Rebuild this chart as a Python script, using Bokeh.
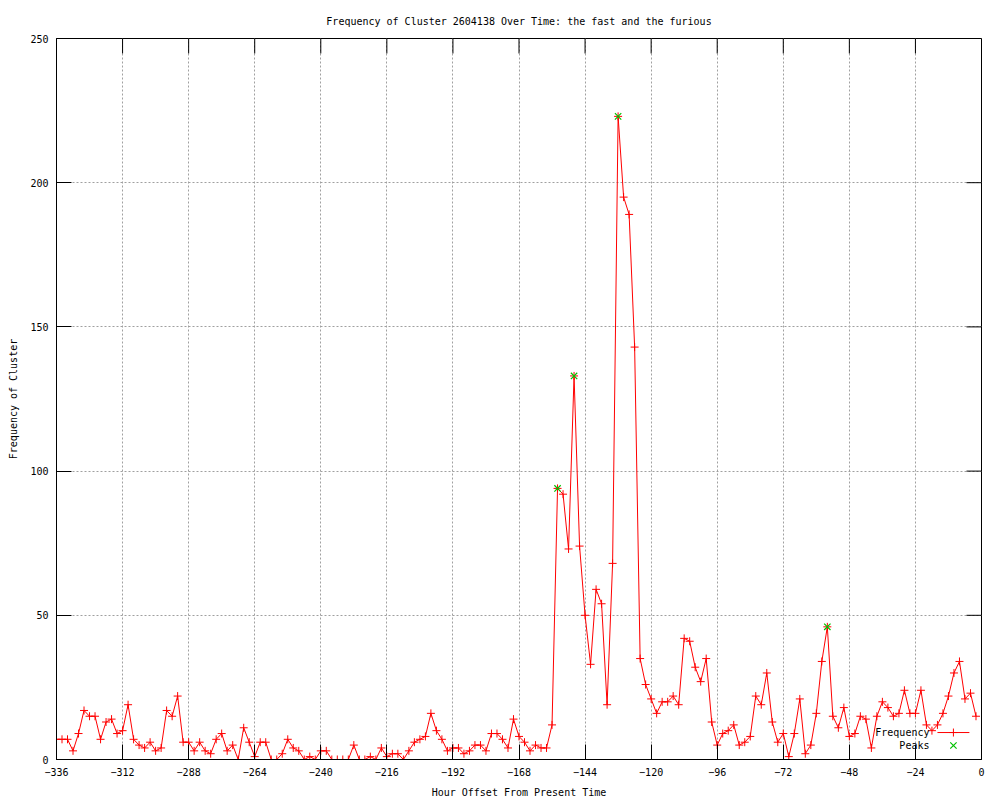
from bokeh.plotting import figure
from bokeh.models import FixedTicker, Range1d, Label
from bokeh.embed import file_html
from bokeh.resources import INLINE

# ---------------- data ----------------
chart_title = "Frequency of Cluster 2604138 Over Time: the fast and the furious"
x_label = "Hour Offset From Present Time"
y_label = "Frequency of Cluster"

hours = list(range(-336, 0, 2))
frequency = [
    7, 7, 7, 3, 9, 17, 15, 15, 7, 13, 14, 9,            # -336 .. -314
    10, 19, 7, 5, 4, 6, 3, 4, 17, 15, 22, 6,            # -312 .. -290
    6, 3, 6, 3, 2, 7, 9, 3, 5, 0, 11, 6,                # -288 .. -266
    1, 6, 6, 0, 0, 2, 7, 4, 3, 0, 1, 0,                 # -264 .. -242
    3, 3, 0, 0, 0, 0, 5, 0, 0, 1, 0, 4,                 # -240 .. -218
    1, 2, 2, 0, 3, 6, 7, 8, 16, 10, 7, 3,               # -216 .. -194
    4, 4, 2, 3, 5, 5, 3, 9, 9, 7, 4, 14,                # -192 .. -170
    8, 6, 3, 5, 4, 4, 12, 94, 92, 73, 133, 74,          # -168 .. -146
    50, 33, 59, 54, 19, 68, 223, 195, 189, 143, 35, 26, # -144 .. -122
    21, 16, 20, 20, 22, 19, 42, 41, 32, 27, 35, 13,     # -120 .. -98
    5, 9, 10, 12, 5, 6, 8, 22, 19, 30, 13, 6,           # -96 .. -74
    9, 1, 9, 21, 2, 5, 16, 34, 46, 15, 11, 18,          # -72 .. -50
    8, 9, 15, 14, 4, 15, 20, 18, 15, 16, 24, 16,        # -48 .. -26
    16, 24, 12, 10, 12, 16, 22, 30, 34, 21, 23, 15,     # -24 .. -2
]
peak_hours = [-154, -148, -132, -56]
peak_values = [94, 133, 223, 46]

x_ticks = [-336, -312, -288, -264, -240, -216, -192, -168, -144, -120, -96, -72, -48, -24, 0]
y_ticks = [0, 50, 100, 150, 200, 250]

# ---------------- style / layout ----------------
FONT = "DejaVu Sans Mono"
FS = "10px"
RED = "#ff0000"
GREEN = "#00c000"

X0, X1, Y0, Y1 = -336, 0, 0, 250
FIG_W, FIG_H = 992, 800
B_LEFT, B_RIGHT, B_TOP, B_BOTTOM = 56, 11, 38, 40
FRAME_W = FIG_W - B_LEFT - B_RIGHT
FRAME_H = FIG_H - B_TOP - B_BOTTOM
TICK_PX = 15

p = figure(width=FIG_W, height=FIG_H, output_backend="svg", toolbar_location=None,
           x_range=Range1d(X0, X1), y_range=Range1d(Y0, Y1),
           min_border_left=B_LEFT, min_border_right=B_RIGHT,
           min_border_top=B_TOP, min_border_bottom=B_BOTTOM)

p.title.text = chart_title
p.title.align = "center"
p.title.text_font = FONT
p.title.text_font_size = FS
p.title.text_font_style = "normal"
p.title.text_color = "black"
p.title.standoff = 24

p.outline_line_color = "black"
p.outline_line_alpha = 1
p.outline_line_width = 1
p.background_fill_color = "white"
p.border_fill_color = "white"

for ax, ticks in ((p.xaxis[0], x_ticks), (p.yaxis[0], y_ticks)):
    ax.ticker = FixedTicker(ticks=ticks)
    ax.major_tick_in = TICK_PX
    ax.major_tick_out = 0
    ax.minor_tick_line_color = None
    ax.axis_line_color = "black"
    ax.major_tick_line_color = "black"
    ax.major_label_text_font = FONT
    ax.major_label_text_font_size = FS
    ax.major_label_text_color = "black"
    ax.axis_label_text_font = FONT
    ax.axis_label_text_font_size = FS
    ax.axis_label_text_font_style = "normal"
    ax.axis_label_text_color = "black"

p.xaxis.axis_label = x_label
p.yaxis.axis_label = y_label
p.xaxis.major_label_standoff = 8
p.xaxis.axis_label_standoff = 8
p.yaxis.major_label_standoff = 8
p.yaxis.axis_label_standoff = 8

# mirrored ticks on top and right border (gnuplot style)
dy_tick = TICK_PX * (Y1 - Y0) / FRAME_H
dx_tick = TICK_PX * (X1 - X0) / FRAME_W
p.segment(x0=x_ticks, y0=[Y1] * len(x_ticks), x1=x_ticks, y1=[Y1 - dy_tick] * len(x_ticks),
          line_color="black", line_width=1)
p.segment(x0=[X1] * len(y_ticks), y0=y_ticks, x1=[X1 - dx_tick] * len(y_ticks), y1=y_ticks,
          line_color="black", line_width=1)

p.xgrid.ticker = FixedTicker(ticks=x_ticks)
p.ygrid.ticker = FixedTicker(ticks=y_ticks)
for g in (p.xgrid[0], p.ygrid[0]):
    g.grid_line_color = "#a0a0a0"
    g.grid_line_dash = "2 2"
    g.grid_line_width = 1

p.line(hours, frequency, line_color=RED, line_width=1)
p.scatter(hours, frequency, marker="cross", size=8, line_color=RED, line_width=1)
p.scatter(peak_hours, peak_values, marker="x", size=9, line_color=GREEN, line_width=1.2)

# ---------------- legend (gnuplot style: text then sample) ----------------
leg_text_x = -18.9
leg_key_x0, leg_key_x1, leg_key_mid = -16.0, -4.4, -10.2
leg_y1, leg_y2 = 9.35, 4.85
for txt, yy in (("Frequency", leg_y1), ("Peaks", leg_y2)):
    p.add_layout(Label(x=leg_text_x, y=yy, text=txt, text_align="right", text_baseline="middle",
                       text_font=FONT, text_font_size=FS, text_color="black"))
p.line([leg_key_x0, leg_key_x1], [leg_y1, leg_y1], line_color=RED, line_width=1)
p.scatter([leg_key_mid], [leg_y1], marker="cross", size=8, line_color=RED, line_width=1)
p.scatter([leg_key_mid], [leg_y2], marker="x", size=9, line_color=GREEN, line_width=1.2)

open("out.html", "w").write(file_html(p, INLINE))
